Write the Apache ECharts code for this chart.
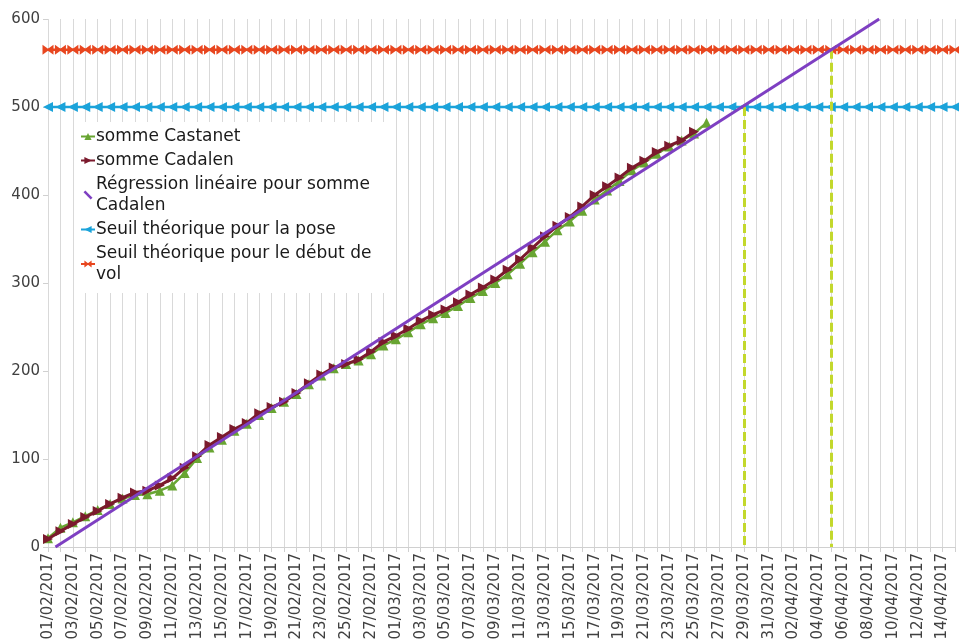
<!DOCTYPE html>
<html>
<head>
<meta charset="utf-8">
<script src="https://cdn.jsdelivr.net/npm/echarts@6/dist/echarts.min.js"></script>
<style>
  html, body { margin: 0; padding: 0; background: #fff; }
  #main { width: 959px; height: 639px; }
</style>
</head>
<body>
<div id="main"></div>
<script>
// categories: one per day, 01/02/2017 -> 15/04/2017
const dates = [
  '01/02/2017','02/02/2017','03/02/2017','04/02/2017','05/02/2017','06/02/2017','07/02/2017','08/02/2017',
  '09/02/2017','10/02/2017','11/02/2017','12/02/2017','13/02/2017','14/02/2017','15/02/2017','16/02/2017',
  '17/02/2017','18/02/2017','19/02/2017','20/02/2017','21/02/2017','22/02/2017','23/02/2017','24/02/2017',
  '25/02/2017','26/02/2017','27/02/2017','28/02/2017','01/03/2017','02/03/2017','03/03/2017','04/03/2017',
  '05/03/2017','06/03/2017','07/03/2017','08/03/2017','09/03/2017','10/03/2017','11/03/2017','12/03/2017',
  '13/03/2017','14/03/2017','15/03/2017','16/03/2017','17/03/2017','18/03/2017','19/03/2017','20/03/2017',
  '21/03/2017','22/03/2017','23/03/2017','24/03/2017','25/03/2017','26/03/2017','27/03/2017','28/03/2017',
  '29/03/2017','30/03/2017','31/03/2017','01/04/2017','02/04/2017','03/04/2017','04/04/2017','05/04/2017',
  '06/04/2017','07/04/2017','08/04/2017','09/04/2017','10/04/2017','11/04/2017','12/04/2017','13/04/2017',
  '14/04/2017','15/04/2017'
];

const sommeCastanet = [
  10, 22, 28, 35, 42, 49, 55, 59, 60, 64, 70, 84, 101, 113, 122, 132, 140, 150, 158, 165,
  174, 185, 195, 203, 208, 212, 219, 229, 236, 244, 253, 260, 266, 274, 283, 291, 300, 310, 322, 335,
  347, 360, 370, 382, 395, 405, 416, 428, 437, 447, 455, 462, 470, 482
];

const sommeCadalen = [
  9, 18, 26, 34, 41, 49, 56, 62, 64, 70, 78, 90, 103, 116, 125, 134, 141, 152, 159, 165,
  175, 186, 196, 204, 208, 213, 222, 233, 240, 248, 257, 264, 270, 278, 287, 295, 304, 315, 327, 340,
  353, 365, 375, 387, 400, 410, 420, 431, 439, 449, 456, 462, 472
];

// regression line, read at the points where it enters and leaves the plot (day index, value)
const regressionX = [0.6, 66.9];
const regressionY = [0, 600];

const seuilPose = 500;
const seuilVol = 565;
const dropDates = ['29/03/2017', '05/04/2017'];
const dropValues = [seuilPose, seuilVol];

const yTicks = [0, 100, 200, 300, 400, 500, 600];

const font = 'DejaVu Sans, Verdana, sans-serif';

let el = document.getElementById('main');
let myChart = echarts.init(el);

let option = {
  animation: false,
  grid: {
    left: 48,
    right: 4,
    top: 19,
    bottom: 92,
    outerBoundsMode: 'none'
  },
  legend: {
    orient: 'vertical',
    left: 78,
    top: 122,
    backgroundColor: '#ffffff',
    padding: [4, 14, 8, 2],
    itemGap: 3,
    itemWidth: 14,
    itemHeight: 9,
    textStyle: {
      fontFamily: font,
      fontSize: 17,
      lineHeight: 21,
      color: '#1a1a1a',
      padding: [0, 0, 0, -4]
    },
    formatter: function (name) {
      if (name === 'Régression linéaire pour somme Cadalen') {
        return 'Régression linéaire pour somme\nCadalen';
      }
      if (name === 'Seuil théorique pour le début de vol') {
        return 'Seuil théorique pour le début de\nvol';
      }
      return name;
    },
    data: [
      'somme Castanet',
      'somme Cadalen',
      { name: 'Régression linéaire pour somme Cadalen', icon: 'path://M0,2 L2,0 L10,8 L8,10 Z' },
      'Seuil théorique pour la pose',
      'Seuil théorique pour le début de vol'
    ]
  },
  xAxis: [{
    type: 'category',
    data: dates,
    boundaryGap: false,
    axisLine: { lineStyle: { color: '#d0d0d0' } },
    axisTick: { show: true, interval: 0, length: 5, lineStyle: { color: '#d0d0d0' } },
    axisLabel: {
      interval: 1,
      rotate: 90,
      margin: 6,
      fontFamily: font,
      fontSize: 15,
      color: '#404040'
    },
    splitLine: {
      show: true,
      interval: 0,
      lineStyle: { color: '#d9d9d9', width: 1 }
    }
  }, {
    // hidden value axis spanning the same days, for the regression line
    type: 'value',
    min: 0,
    max: dates.length - 1,
    show: false
  }],
  yAxis: {
    type: 'value',
    min: yTicks[0],
    max: yTicks[yTicks.length - 1],
    interval: 100,
    axisLine: { show: false },
    axisTick: { show: true, length: 5, lineStyle: { color: '#d0d0d0' } },
    axisLabel: {
      margin: 8,
      fontFamily: font,
      fontSize: 15,
      color: '#404040'
    },
    splitLine: { show: false }
  },
  series: [
    {
      name: 'Seuil théorique pour le début de vol',
      type: 'line',
      data: dates.map(() => seuilVol),
      color: '#e8461f',
      lineStyle: { width: 2.5 },
      showAllSymbol: true,
      symbol: 'path://M0,0 L5,4 L10,0 L10,10 L5,6 L0,10 Z',
      symbolSize: [11, 10],
      z: 3
    },
    {
      name: 'Seuil théorique pour la pose',
      type: 'line',
      data: dates.map(() => seuilPose),
      color: '#1ba3da',
      lineStyle: { width: 2.5 },
      showAllSymbol: true,
      symbol: 'triangle',
      symbolRotate: 90,
      symbolSize: 10,
      z: 3,
      markLine: {
        silent: true,
        symbol: 'none',
        label: { show: false },
        lineStyle: { color: '#c3d82c', width: 3, type: [9, 4] },
        data: dropDates.map((d, i) => [
          { coord: [d, dropValues[i]] },
          { coord: [d, 0] }
        ])
      }
    },
    {
      name: 'somme Castanet',
      type: 'line',
      data: sommeCastanet,
      color: '#68a532',
      lineStyle: { width: 2.5 },
      showAllSymbol: true,
      symbol: 'triangle',
      symbolSize: 10,
      z: 4
    },
    {
      name: 'somme Cadalen',
      type: 'line',
      data: sommeCadalen,
      color: '#7b1a2d',
      lineStyle: { width: 3 },
      showAllSymbol: true,
      symbol: 'triangle',
      symbolRotate: -90,
      symbolSize: 10,
      z: 5
    },
    {
      name: 'Régression linéaire pour somme Cadalen',
      type: 'line',
      xAxisIndex: 1,
      data: regressionX.map((x, i) => [x, regressionY[i]]),
      color: '#7e3fc2',
      lineStyle: { width: 3 },
      symbol: 'none',
      z: 6
    }
  ]
};
myChart.setOption(option);
</script>
</body>
</html>
